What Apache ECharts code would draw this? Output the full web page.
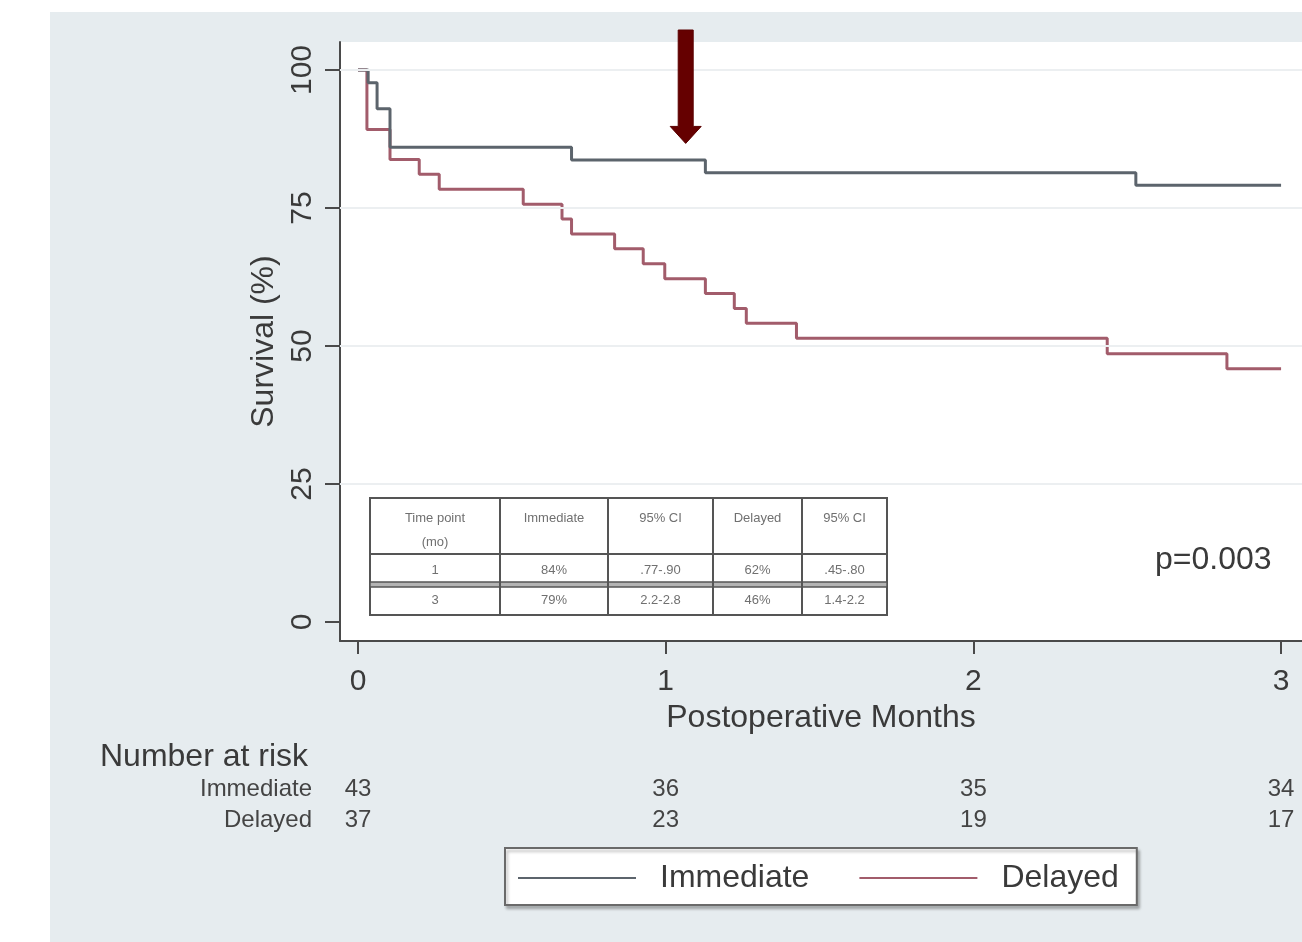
<!DOCTYPE html>
<html>
<head>
<meta charset="utf-8">
<script src="https://cdn.jsdelivr.net/npm/echarts@6/dist/echarts.min.js"></script>
<style>
  html, body { margin: 0; padding: 0; background: #ffffff; }
  #chart { width: 1302px; height: 942px; }
</style>
</head>
<body>
<div id="chart"></div>
<script>
// Kaplan–Meier estimates: event time (months) and survival (%) after each step
const immediateTimes = [0, 0.033, 0.062, 0.104, 0.694, 1.129, 2.528, 3.0];
const immediateSurv  = [100, 97.7, 93.0, 86.0, 83.7, 81.4, 79.1, 79.1];
const delayedTimes = [0, 0.029, 0.104, 0.199, 0.264, 0.537, 0.663, 0.694, 0.834, 0.927, 0.997, 1.129, 1.223, 1.262, 1.425, 2.435, 2.824, 3.0];
const delayedSurv  = [100, 89.2, 83.8, 81.1, 78.4, 75.7, 73.0, 70.3, 67.6, 64.9, 62.2, 59.5, 56.8, 54.1, 51.4, 48.6, 45.9, 45.9];

// Axis ticks
const xTicks = [0, 1, 2, 3];
const yTicks = [0, 25, 50, 75, 100];
const gridValues = [25, 50, 75, 100];

// Number at risk
const riskTimes = [0, 1, 2, 3];
const riskImmediate = [43, 36, 35, 34];
const riskDelayed = [37, 23, 19, 17];

// Inset summary table
const tableHeader = ['Time point\n(mo)', 'Immediate', '95% CI', 'Delayed', '95% CI'];
const tableRow1 = ['1', '84%', '.77-.90', '62%', '.45-.80'];
const tableRow2 = ['3', '79%', '2.2-2.8', '46%', '1.4-2.2'];

const pValueText = 'p=0.003';
// Arrow marking the 1-month landmark (tip in data coordinates)
const arrowTip = [1.065, 86.7];

const FONT = '"Liberation Sans", Arial, sans-serif';
const TXT = '#3a3a3a';
const C_IMM = '#5c646c';
const C_DEL = '#a25c6b';

const chart = echarts.init(document.getElementById('chart'), null, { renderer: 'canvas' });

const zip = (t, s) => t.map((v, i) => [v, s[i]]);

const option = {
  backgroundColor: '#ffffff',
  animation: false,
  grid: {
    left: 340, top: 42, right: 0, bottom: 301,
    show: true, backgroundColor: '#ffffff', borderWidth: 0
  },
  xAxis: {
    type: 'value',
    min: -0.0585, max: 3.068,
    name: 'Postoperative Months',
    nameLocation: 'middle',
    nameGap: 58,
    nameTextStyle: { fontFamily: FONT, fontSize: 32, color: TXT },
    axisLine: { show: true, onZero: false, lineStyle: { color: '#4a4a4a', width: 2 } },
    axisTick: { show: true, length: 13, customValues: xTicks, lineStyle: { color: '#4a4a4a', width: 2 } },
    axisLabel: { customValues: xTicks, margin: 26, fontFamily: FONT, fontSize: 30, color: TXT },
    splitLine: { show: false }
  },
  yAxis: {
    type: 'value',
    min: -3.44, max: 105.07,
    name: 'Survival (%)',
    nameLocation: 'middle',
    nameGap: 52,
    nameRotate: 90,
    nameTextStyle: { fontFamily: FONT, fontSize: 32, color: TXT },
    axisLine: { show: true, onZero: false, lineStyle: { color: '#4a4a4a', width: 2 } },
    axisTick: { show: true, length: 15, customValues: yTicks, lineStyle: { color: '#4a4a4a', width: 2 } },
    axisLabel: { customValues: yTicks, rotate: 90, margin: 22, fontFamily: FONT, fontSize: 30, color: TXT },
    splitLine: { show: false }
  },
  legend: {
    data: ['Immediate', 'Delayed'],
    left: 505, top: 848,
    orient: 'horizontal',
    padding: [14, 18, 11, 13],
    itemGap: 50,
    itemWidth: 118,
    itemHeight: 2,
    icon: 'rect',
    backgroundColor: '#ffffff',
    borderColor: '#6a6a6a',
    borderWidth: 2,
    borderRadius: 0,
    shadowColor: 'rgba(0,0,0,0.25)',
    shadowBlur: 3,
    shadowOffsetX: 2,
    shadowOffsetY: 3,
    selectedMode: false,
    textStyle: { fontFamily: FONT, fontSize: 32, color: TXT, padding: [0, 0, 0, 19] }
  },
  series: [
    {
      name: 'gridlines',
      type: 'line',
      data: [],
      z: 1,
      silent: true,
      markLine: {
        silent: true,
        symbol: 'none',
        label: { show: false },
        lineStyle: { color: '#eceff1', width: 2, type: 'solid' },
        data: gridValues.map(v => ({ yAxis: v }))
      }
    },
    {
      name: 'Immediate',
      type: 'line',
      step: 'end',
      z: 3,
      data: zip(immediateTimes, immediateSurv),
      showSymbol: false,
      symbol: 'none',
      color: C_IMM,
      lineStyle: { color: C_IMM, width: 3 }
    },
    {
      name: 'Delayed',
      type: 'line',
      step: 'end',
      z: 2,
      data: zip(delayedTimes, delayedSurv),
      showSymbol: false,
      symbol: 'none',
      color: C_DEL,
      lineStyle: { color: C_DEL, width: 3 }
    }
  ]
};

chart.setOption(option);

// ---- Overlay elements positioned from the axes ----
const px = (x, y) => chart.convertToPixel({ gridIndex: 0 }, [x, y]);
const graphics = [];

// Outer panel behind the plot
graphics.push({
  type: 'rect', z: -100, silent: true,
  shape: { x: 50, y: 12, width: 1302 - 50, height: 942 - 12 },
  style: { fill: '#e6ecef' }
});

// Number at risk block
graphics.push({
  type: 'text', z: 10, left: 100, top: 741,
  style: { text: 'Number at risk', font: `32px ${FONT}`, fill: TXT }
});
const riskRowY = [789, 820];
const riskLabels = ['Immediate', 'Delayed'];
const riskValues = [riskImmediate, riskDelayed];
riskLabels.forEach((lab, r) => {
  graphics.push({
    type: 'text', z: 10, x: 312, y: riskRowY[r],
    style: { text: lab, font: `24px ${FONT}`, fill: '#444', align: 'right', verticalAlign: 'middle' }
  });
  riskTimes.forEach((t, i) => {
    const p = px(t, 0);
    graphics.push({
      type: 'text', z: 10, x: p[0], y: riskRowY[r],
      style: { text: String(riskValues[r][i]), font: `24px ${FONT}`, fill: '#444', align: 'center', verticalAlign: 'middle' }
    });
  });
});

// p-value annotation
graphics.push({
  type: 'text', z: 10, x: 1155, y: 560,
  style: { text: pValueText, font: `32px ${FONT}`, fill: TXT, align: 'left', verticalAlign: 'middle' }
});

// Landmark arrow
const tip = px(arrowTip[0], arrowTip[1]);
const headLen = 17, headHalf = 15.5, shaftHalf = 7.5, shaftTop = 30;
graphics.push({
  type: 'polygon', z: 20, silent: true,
  shape: {
    points: [
      [tip[0] - shaftHalf, shaftTop],
      [tip[0] + shaftHalf, shaftTop],
      [tip[0] + shaftHalf, tip[1] - headLen],
      [tip[0] + headHalf, tip[1] - headLen],
      [tip[0], tip[1]],
      [tip[0] - headHalf, tip[1] - headLen],
      [tip[0] - shaftHalf, tip[1] - headLen]
    ]
  },
  style: { fill: '#650000', stroke: '#5a0000', lineWidth: 1 }
});

// Inset summary table
const colX = [370, 500, 608, 713, 802, 887];
const rowTop = 498, headBottom = 554, r1Bottom = 582, r2Top = 587, tBottom = 615;
const tableColor = '#555';
graphics.push({
  type: 'rect', z: 8, silent: true,
  shape: { x: colX[0], y: rowTop, width: colX[5] - colX[0], height: tBottom - rowTop },
  style: { fill: '#ffffff', stroke: tableColor, lineWidth: 2 }
});
graphics.push({
  type: 'rect', z: 8, silent: true,
  shape: { x: colX[0], y: r1Bottom, width: colX[5] - colX[0], height: r2Top - r1Bottom },
  style: { fill: '#b4b4b4', stroke: tableColor, lineWidth: 1.5 }
});
graphics.push({
  type: 'line', z: 8, silent: true,
  shape: { x1: colX[0], y1: headBottom, x2: colX[5], y2: headBottom },
  style: { stroke: tableColor, lineWidth: 2 }
});
for (let i = 1; i < colX.length - 1; i++) {
  graphics.push({
    type: 'line', z: 8, silent: true,
    shape: { x1: colX[i], y1: rowTop, x2: colX[i], y2: tBottom },
    style: { stroke: tableColor, lineWidth: 2 }
  });
}
const cellFont = `13px ${FONT}`;
const cellColor = '#707070';
tableHeader.forEach((txt, i) => {
  graphics.push({
    type: 'text', z: 9, x: (colX[i] + colX[i + 1]) / 2, y: 506,
    style: { text: txt, font: cellFont, fill: cellColor, align: 'center', verticalAlign: 'top', lineHeight: 24 }
  });
});
[[tableRow1, 570], [tableRow2, 600]].forEach(([row, y]) => {
  row.forEach((txt, i) => {
    graphics.push({
      type: 'text', z: 9, x: (colX[i] + colX[i + 1]) / 2, y: y,
      style: { text: txt, font: cellFont, fill: cellColor, align: 'center', verticalAlign: 'middle' }
    });
  });
});

chart.setOption({ graphic: { elements: graphics } });
</script>
</body>
</html>
